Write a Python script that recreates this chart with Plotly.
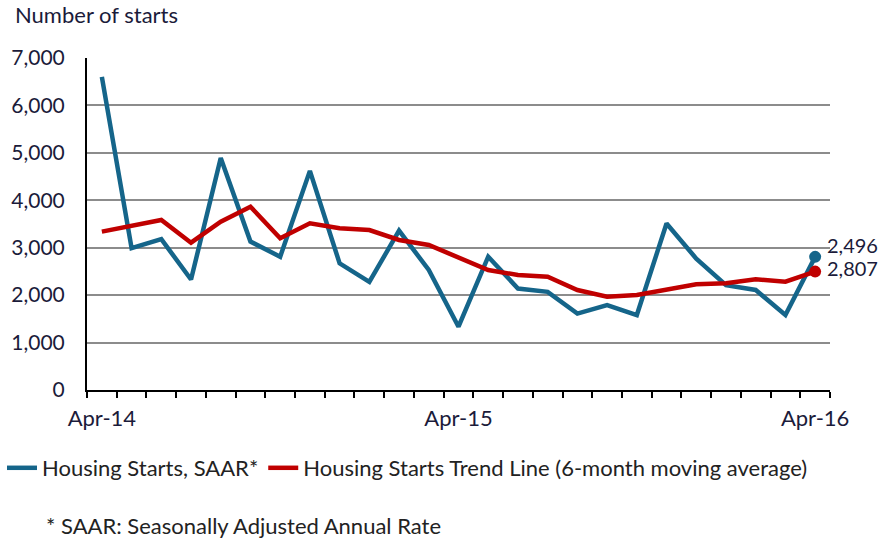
import plotly.graph_objects as go

months = ["Apr-14", "May-14", "Jun-14", "Jul-14", "Aug-14", "Sep-14", "Oct-14", "Nov-14",
          "Dec-14", "Jan-15", "Feb-15", "Mar-15", "Apr-15", "May-15", "Jun-15", "Jul-15",
          "Aug-15", "Sep-15", "Oct-15", "Nov-15", "Dec-15", "Jan-16", "Feb-16", "Mar-16", "Apr-16"]
tick_labels = ["Apr-14" if i == 0 else "Apr-15" if i == 12 else "Apr-16" if i == 24 else "" for i in range(len(months))]

starts_saar = [6600, 2990, 3180, 2330, 4890, 3130, 2810, 4620, 2670, 2280, 3360, 2530, 1335,
               2810, 2140, 2070, 1610, 1790, 1580, 3510, 2770, 2210, 2110, 1580, 2807]
trend_6mma = [3340, 3465, 3584, 3106, 3549, 3865, 3198, 3514, 3409, 3373, 3163, 3057, 2790,
              2530, 2425, 2389, 2108, 1967, 2003, 2108, 2228, 2249, 2333, 2284, 2496]

BLUE = "#15658A"
RED = "#C00000"
TXT = "#1B1B3A"
FONT = "Lato"

W, H = 884, 541
L, R, T, B = 87, 830, 58, 390


def px_x(p):
    return (p - L) / (R - L)


def px_y(p):
    return (B - p) / (B - T)


fig = go.Figure()
fig.add_trace(go.Scatter(x=months, y=starts_saar, mode="lines", name="Housing Starts, SAAR*",
                         line=dict(color=BLUE, width=4.5)))
fig.add_trace(go.Scatter(x=months, y=trend_6mma, mode="lines",
                         name="Housing Starts Trend Line (6-month moving average)",
                         line=dict(color=RED, width=4.5)))
fig.add_trace(go.Scatter(x=[months[-1]], y=[starts_saar[-1]], mode="markers", showlegend=False,
                         marker=dict(color=BLUE, size=12)))
fig.add_trace(go.Scatter(x=[months[-1]], y=[trend_6mma[-1]], mode="markers", showlegend=False,
                         marker=dict(color=RED, size=12)))

# end labels (as shown in the source: upper label 2,496, lower label 2,807)
fig.add_annotation(x=months[-1], y=3060, xref="x", yref="y", text=f"{trend_6mma[-1]:,}",
                   showarrow=False, xanchor="left", xshift=10, font=dict(size=20, color=TXT, family=FONT))
fig.add_annotation(x=months[-1], y=2570, xref="x", yref="y", text=f"{starts_saar[-1]:,}",
                   showarrow=False, xanchor="left", xshift=10, font=dict(size=20, color=TXT, family=FONT))

fig.add_annotation(x=px_x(13), y=px_y(15), xref="paper", yref="paper", text="Number of starts",
                   showarrow=False, xanchor="left", yanchor="middle",
                   font=dict(size=22, color=TXT, family=FONT))
fig.add_annotation(x=px_x(44), y=px_y(525), xref="paper", yref="paper",
                   text="* SAAR: Seasonally Adjusted Annual Rate",
                   showarrow=False, xanchor="left", yanchor="middle",
                   font=dict(size=22, color="#222222", family=FONT))

fig.update_layout(
    width=W, height=H,
    margin=dict(l=L, r=W - R, t=T, b=H - B, autoexpand=False),
    plot_bgcolor="white", paper_bgcolor="white",
    font=dict(family=FONT, color=TXT, size=16),
    showlegend=True,
    legend=dict(orientation="h", x=px_x(2), xanchor="left", y=px_y(468), yanchor="middle",
                font=dict(size=22, color="#222222", family=FONT), itemwidth=30, tracegroupgap=0,
                bgcolor="rgba(0,0,0,0)"),
    xaxis=dict(type="category", tickmode="array", tickvals=months, ticktext=tick_labels,
               tickson="boundaries", ticks="outside", ticklen=6, tickwidth=2, tickcolor="black",
               showline=True, linecolor="black", linewidth=2, showgrid=False, automargin=False,
               range=[-0.5, len(months) - 0.5], tickfont=dict(size=22, color=TXT), tickangle=0,
               ticklabelstandoff=8, zeroline=False),
    yaxis=dict(range=[0, 7000], dtick=1000, tickformat=",", showgrid=True, gridcolor="#8C8C8C",
               gridwidth=1.5, showline=True, linecolor="black", linewidth=2, ticks="",
               automargin=False, ticklabelstandoff=16, tickfont=dict(size=21, color=TXT),
               zeroline=False),
)
fig.write_html("out.html", config={"displayModeBar": False},
               post_script="document.body.style.margin='0';document.body.style.overflow='hidden';")
